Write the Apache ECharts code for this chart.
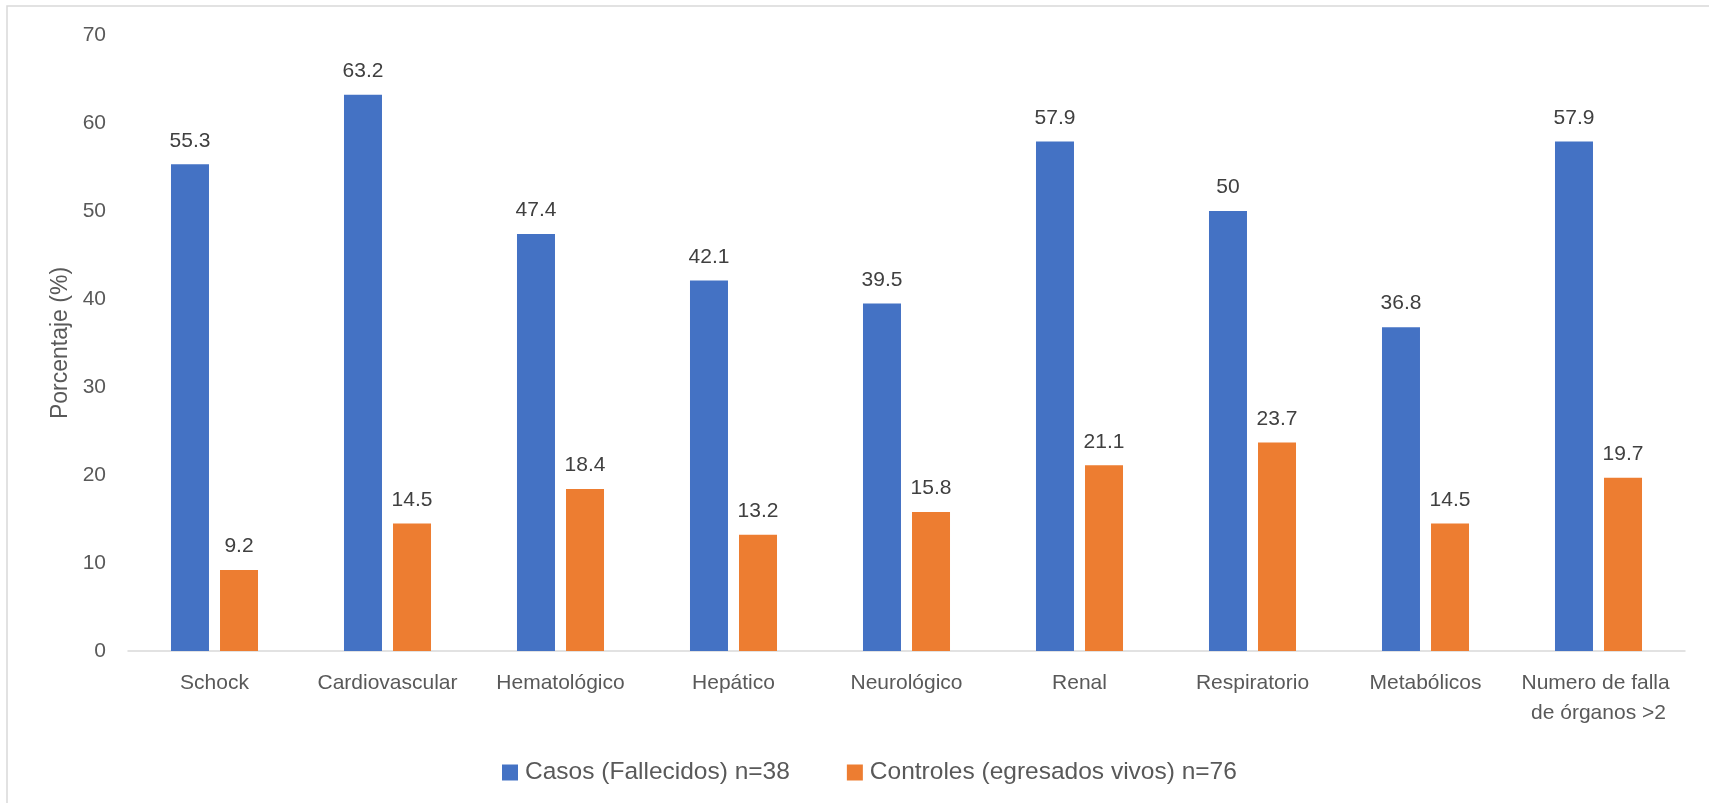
<!DOCTYPE html>
<html>
<head>
<meta charset="utf-8">
<script src="https://cdn.jsdelivr.net/npm/echarts@6/dist/echarts.min.js"></script>
<style>
  html, body { margin: 0; padding: 0; background: #ffffff; }
  #chart { width: 1709px; height: 803px; }
</style>
</head>
<body>
<div id="chart"></div>
<script>
// Organ failure categories
const categories = [
  'Schock', 'Cardiovascular', 'Hematológico', 'Hepático', 'Neurológico',
  'Renal', 'Respiratorio', 'Metabólicos', 'Numero de falla de órganos >2'
];
// Percentages per group
const casos = [55.3, 63.2, 47.4, 42.1, 39.5, 57.9, 50, 36.8, 57.9];
const controles = [9.2, 14.5, 18.4, 13.2, 15.8, 21.1, 23.7, 14.5, 19.7];
const seriesNames = ['Casos (Fallecidos) n=38', 'Controles (egresados vivos) n=76'];
const yTicks = { min: 0, max: 70, step: 10 };
const yTitle = 'Porcentaje (%)';

const FONT = '"Liberation Sans", Arial, sans-serif';
const chart = echarts.init(document.getElementById('chart'), null, { renderer: 'canvas' });

const dataLabel = {
  show: true,
  position: 'top',
  distance: 13,
  color: '#404040',
  fontSize: 21,
  fontFamily: FONT
};

chart.setOption({
  animation: false,
  backgroundColor: '#ffffff',
  textStyle: { fontFamily: FONT },
  graphic: [{
    type: 'rect',
    shape: { x: 7, y: 6, width: 1760, height: 860 },
    style: { fill: 'none', stroke: '#d9d9d9', lineWidth: 1.5 },
    silent: true,
    z: -1
  }],
  grid: { left: 128, right: 24, top: 35, bottom: 152, containLabel: false },
  legend: {
    data: seriesNames,
    left: 497,
    top: 755,
    itemWidth: 16,
    itemHeight: 16,
    itemGap: 57,
    icon: 'rect',
    textStyle: { color: '#595959', fontSize: 24.5, fontFamily: FONT, padding: [0, 0, 0, 2] }
  },
  xAxis: {
    type: 'category',
    data: categories,
    axisLine: { show: true, lineStyle: { color: '#d9d9d9', width: 1.5 } },
    axisTick: { show: false },
    splitLine: { show: false },
    axisLabel: {
      interval: 0,
      margin: 17,
      color: '#595959',
      fontSize: 21,
      fontFamily: FONT,
      lineHeight: 30,
      width: 165,
      overflow: 'break',
      align: 'center'
    }
  },
  yAxis: {
    type: 'value',
    min: yTicks.min,
    max: yTicks.max,
    interval: yTicks.step,
    name: yTitle,
    nameLocation: 'middle',
    nameGap: 56,
    nameTextStyle: { color: '#595959', fontSize: 23, fontFamily: FONT },
    axisLine: { show: false },
    axisTick: { show: false },
    splitLine: { show: false },
    axisLabel: { margin: 22, color: '#595959', fontSize: 21, fontFamily: FONT }
  },
  series: [
    {
      name: seriesNames[0],
      type: 'bar',
      data: casos,
      barWidth: 38,
      barGap: '29%',
      itemStyle: { color: '#4472C4' },
      label: dataLabel
    },
    {
      name: seriesNames[1],
      type: 'bar',
      data: controles,
      barWidth: 38,
      barGap: '29%',
      itemStyle: { color: '#ED7D31' },
      label: dataLabel
    }
  ]
});
</script>
</body>
</html>
